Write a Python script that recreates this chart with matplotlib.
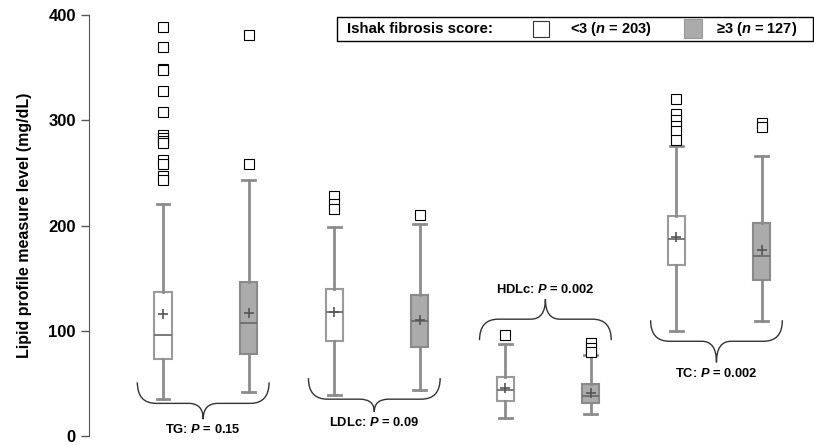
import matplotlib
matplotlib.use("Agg")
import matplotlib.pyplot as plt
from matplotlib.path import Path
from matplotlib.patches import PathPatch, Rectangle

plt.rcParams['font.family'] = ['Liberation Sans', 'DejaVu Sans']
plt.rcParams['font.weight'] = 'bold'
plt.rcParams['mathtext.fontset'] = 'custom'
plt.rcParams['mathtext.bfit'] = 'Liberation Sans:italic:bold'
plt.rcParams['mathtext.it'] = 'Liberation Sans:italic:bold'

# lipid groups, each with two boxes: score <3 then score >=3
groups = ["TG", "LDLc", "HDLc", "TC"]
p_values = ["0.15", "0.09", "0.002", "0.002"]

q1 = [73, 78, 90, 85, 33, 31, 162, 148]
med = [96, 107, 118, 109, 44, 38, 187, 171]
q3 = [137, 146, 140, 134, 56, 49, 209, 202]
whislo = [35, 42, 39, 44, 17, 21, 100, 109]
whishi = [220, 243, 199, 201, 87, 77, 276, 266]
means = [116, 117, 118, 110, 46, 41, 189, 177]
fliers = [
    [389, 370, 349, 348, 328, 308, 286, 283, 280, 278, 262, 258, 247, 243],
    [381, 258],
    [228, 220, 216],
    [210],
    [96],
    [88, 84, 80],
    [320, 306, 300, 295, 290, 281],
    [297, 294],
]

# brace levels per group: end, middle line, tip
brace_y = [(51, 31, 16), (55, 35, 23), (91, 111, 130), (110, 90, 70)]

stats = []
for i in range(8):
    stats.append(dict(q1=q1[i], med=med[i], q3=q3[i], whislo=whislo[i],
                      whishi=whishi[i], mean=means[i], fliers=fliers[i]))

fig = plt.figure(figsize=(8.14, 4.45), dpi=100)
ax = fig.add_axes([89/814, 1-436/445, 1-89/814, (436-15)/445])

positions = list(range(1, 9))
bp = ax.bxp(stats, positions=positions, widths=0.2, patch_artist=True,
            showmeans=True, capwidths=0.15,
            whiskerprops=dict(color='#8c8c8c', lw=2),
            capprops=dict(color='#8c8c8c', lw=2),
            medianprops=dict(color='#6e6e6e', lw=1.3),
            meanprops=dict(marker='+', markeredgecolor='#555555', markersize=7, mew=1.2),
            flierprops=dict(marker='s', markerfacecolor='white', markeredgecolor='black',
                            markersize=6.5, mew=0.8))
for i, box in enumerate(bp['boxes']):
    if i % 2 == 0:
        box.set_facecolor('white')
        box.set_edgecolor('#9a9a9a')
    else:
        box.set_facecolor('#ababab')
        box.set_edgecolor('#8a8a8a')
    box.set_linewidth(1.5)


def brace(x0, x1, y_end, y_mid, y_tip):
    xc = (x0 + x1) / 2
    r, t = 0.22, 0.17
    verts = [(x0, y_end), (x0, y_mid), (x0 + r, y_mid),
             (xc - t, y_mid),
             (xc, y_mid), (xc, y_tip),
             (xc, y_mid), (xc + t, y_mid),
             (x1 - r, y_mid),
             (x1, y_mid), (x1, y_end)]
    codes = [Path.MOVETO, Path.CURVE3, Path.CURVE3, Path.LINETO,
             Path.CURVE3, Path.CURVE3, Path.CURVE3, Path.CURVE3,
             Path.LINETO, Path.CURVE3, Path.CURVE3]
    ax.add_patch(PathPatch(Path(verts, codes), fill=False, lw=1,
                           edgecolor='#333333', clip_on=False))


for g, name in enumerate(groups):
    xc = positions[2*g] + 0.5 - 0.03
    y_end, y_mid, y_tip = brace_y[g]
    brace(xc - 0.77, xc + 0.77, y_end, y_mid, y_tip)
    label = name + ": $\\mathbfit{P}$ = " + p_values[g]
    if y_tip > y_mid:
        ax.text(xc, y_tip + 3, label, ha='center', va='bottom', fontsize=9.3,
                fontweight='bold')
    else:
        ax.text(xc, y_tip - 4, label, ha='center', va='top', fontsize=9.3,
                fontweight='bold')

ax.set_xlim(0.135, 8.61)
ax.set_ylim(0, 400)
ax.set_yticks([0, 100, 200, 300, 400])
ax.set_xticks([])
for s in ['top', 'right', 'bottom']:
    ax.spines[s].set_visible(False)
ax.spines['left'].set_color('#555555')
ax.tick_params(axis='y', labelsize=12, length=6, color='#555555', width=1)
for lab in ax.get_yticklabels():
    lab.set_fontweight('bold')
ax.set_ylabel("Lipid profile measure level (mg/dL)", fontsize=11.5,
              fontweight='bold', labelpad=12)

# legend box drawn in figure pixels
W, H = 814, 445
fig.patches.append(Rectangle((337/W, 1-40.7/H), 476/W, 24/H, transform=fig.transFigure,
                             facecolor='white', edgecolor='black', lw=1, zorder=5))
fig.text(347/W, 1-29/H, "Ishak fibrosis score:", fontsize=10.8, fontweight='bold',
         va='center', zorder=6)
fig.patches.append(Rectangle((533/W, 1-36.7/H), 16/W, 16/H, transform=fig.transFigure,
                             facecolor='white', edgecolor='#333333', lw=0.8, zorder=6))
fig.text(570/W, 1-29/H, "<3 ($\\mathbfit{n}$ = 203)", fontsize=10.5, fontweight='bold',
         va='center', zorder=6)
fig.patches.append(Rectangle((684/W, 1-37.5/H), 18/W, 18/H, transform=fig.transFigure,
                             facecolor='#ababab', edgecolor='#999999', lw=0.8, zorder=6))
fig.text(716/W, 1-29/H, "≥3 ($\\mathbfit{n}$ = 127)", fontsize=10.5, fontweight='bold',
         va='center', zorder=6)

fig.savefig("out.png", dpi=100)
